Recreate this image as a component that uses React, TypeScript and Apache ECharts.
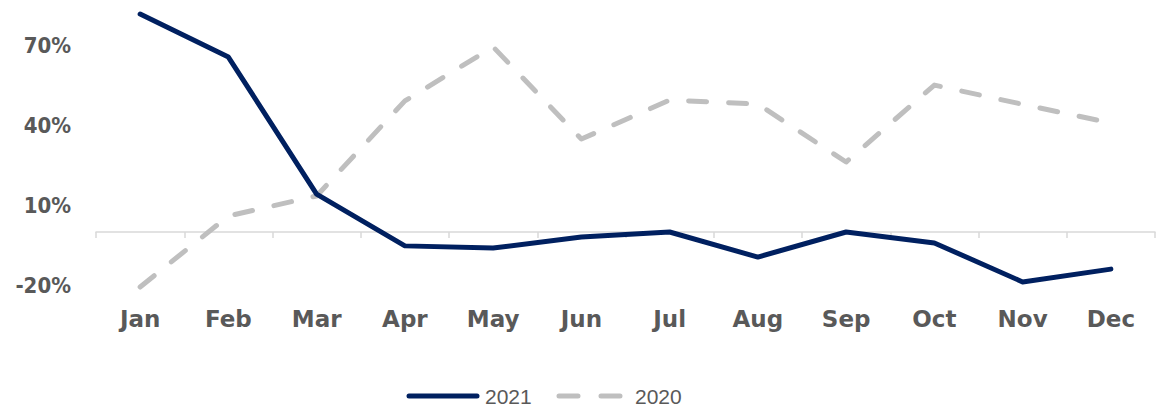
import React, { useEffect, useRef } from "react";
import * as echarts from "echarts";

const months = ["Jan", "Feb", "Mar", "Apr", "May", "Jun", "Jul", "Aug", "Sep", "Oct", "Nov", "Dec"];
const seriesNames = ["2021", "2020"];
const values2021 = [81.6, 65.5, 14.2, -5.2, -6.0, -1.9, 0, -9.4, 0, -4.1, -18.7, -13.9];
const values2020 = [-20.6, 6.0, 13.5, 49.1, 69.3, 34.8, 49.4, 47.9, 26.2, 55.0, 47.8, 40.8];
const yTickLabels = [-20, 10, 40, 70];

export default function App() {
  const ref = useRef<HTMLDivElement>(null);
  useEffect(() => {
    if (!ref.current) return;
    const chart = echarts.init(ref.current, null, { renderer: "svg" });
    const labelColor = "#595959";
    const navy = "#002060";
    const gray = "#BFBFBF";
    const legendY = 396;
    const legendFont = { fontFamily: "Liberation Sans", fontSize: 21, fill: labelColor };
    chart.setOption({
      animation: false,
      backgroundColor: "#ffffff",
      grid: { left: 96, right: 10, top: 5, bottom: 120.25, containLabel: false },
      graphic: [
        {
          type: "line",
          shape: { x1: 409, y1: legendY, x2: 477, y2: legendY },
          style: { stroke: navy, lineWidth: 5, lineCap: "round" },
        },
        {
          type: "text",
          x: 485,
          y: legendY,
          style: { text: seriesNames[0], ...legendFont, verticalAlign: "middle", align: "left" },
        },
        {
          type: "line",
          shape: { x1: 559, y1: legendY, x2: 620, y2: legendY },
          style: { stroke: gray, lineWidth: 5, lineCap: "round", lineDash: [19, 23] },
        },
        {
          type: "text",
          x: 635,
          y: legendY,
          style: { text: seriesNames[1], ...legendFont, verticalAlign: "middle", align: "left" },
        },
      ],
      xAxis: {
        type: "category",
        data: months,
        boundaryGap: true,
        axisLine: { onZero: true, lineStyle: { color: "#D9D9D9", width: 1.5 } },
        axisTick: { show: true, length: 6, lineStyle: { color: "#D9D9D9", width: 1.5 } },
        axisLabel: {
          margin: 9,
          color: labelColor,
          fontFamily: "DejaVu Sans",
          fontWeight: "bold",
          fontSize: 23,
        },
        splitLine: { show: false },
      },
      yAxis: {
        type: "value",
        min: -25,
        max: 85,
        interval: 5,
        axisLine: { show: false },
        axisTick: { show: false },
        splitLine: { show: false },
        axisLabel: {
          margin: 25,
          color: labelColor,
          fontFamily: "DejaVu Sans Condensed",
          fontWeight: "bold",
          fontSize: 22,
          formatter: (v: number) => (yTickLabels.indexOf(Math.round(v)) >= 0 ? `${Math.round(v)}%` : ""),
        },
      },
      series: [
        {
          name: seriesNames[0],
          type: "line",
          data: values2021,
          symbol: "none",
          lineStyle: { color: navy, width: 5, cap: "round", join: "round" },
          itemStyle: { color: navy },
          z: 3,
        },
        {
          name: seriesNames[1],
          type: "line",
          data: values2020,
          symbol: "none",
          lineStyle: { color: gray, width: 5, type: [18, 22], cap: "round", join: "round" },
          itemStyle: { color: gray },
          z: 2,
        },
      ],
    });
    return () => chart.dispose();
  }, []);
  return (
    <div
      ref={ref}
      style={{ position: "fixed", left: 0, top: 0, width: 1165, height: 419, background: "#fff" }}
    />
  );
}
